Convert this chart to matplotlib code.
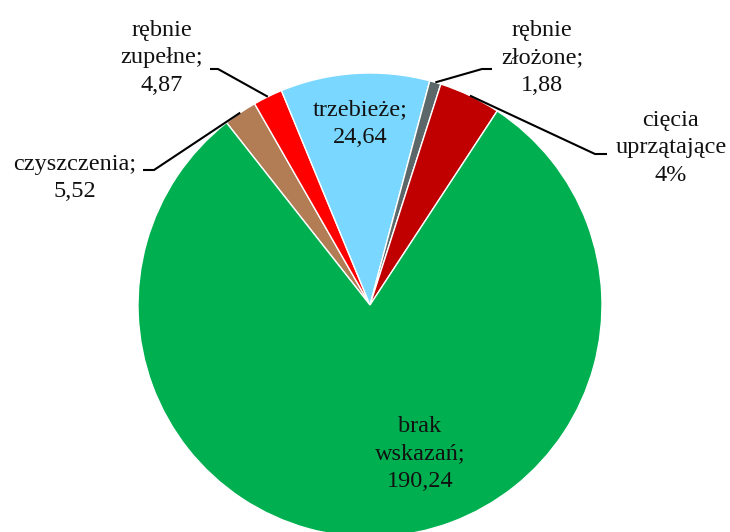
import numpy as np
import matplotlib
matplotlib.use("Agg")
import matplotlib.pyplot as plt

# Forest treatment needs (area), drawn clockwise
categories = ["czyszczenia", "rębnie zupełne", "trzebieże", "rębnie złożone",
              "cięcia uprzątające", "brak wskazań"]
values = [5.52, 4.87, 24.64, 1.88, 10.2, 190.24]
label_texts = ["czyszczenia;\n5,52", "rębnie\nzupełne;\n4,87", "trzebieże;\n24,64",
               "rębnie\nzłożone;\n1,88", "cięcia\nuprzątające\n{pct}", "brak\nwskazań;\n190,24"]
colors = ["#B27D55", "#FF0000", "#7AD7FF", "#5B6769", "#C00000", "#00B050"]

W, H = 730, 532
R_PX = 232.0
CX, CY = 370.0, 305.0


def px(x, y):
    """Pixel position (from top-left) to data coordinates of a unit-radius pie."""
    return (x - CX) / R_PX, (CY - y) / R_PX


fig = plt.figure(figsize=(W / 100, H / 100), dpi=100)
ax = fig.add_axes([0, 0, 1, 1])
ax.axis("off")

start = 128.2
wedges, _ = ax.pie(values, colors=colors, startangle=start, counterclock=False,
                   radius=1.0, center=(0, 0),
                   wedgeprops=dict(edgecolor="white", linewidth=1.0))
ax.set_xlim(px(0, 0)[0], px(W, 0)[0])
ax.set_ylim(px(0, H)[1], px(0, 0)[1])
ax.set_aspect("auto")

total = sum(values)
pct = "{:.0f}%".format(values[4] / total * 100)
texts = [t.format(pct=pct) if "{pct}" in t else t for t in label_texts]

font = dict(family=["Liberation Serif", "DejaVu Serif"], fontsize=17.5,
            color="#111111", ha="center", va="center", multialignment="center",
            linespacing=1.42)

# label block centres (pixel layout)
label_pos = [(75, 178), (162, 58), (360, 124), (542, 58), (671, 148), (420, 454)]
# leader elbows: (outer end, inner end) of the short horizontal stub
elbows = {0: ((143, 170), (154, 170)),
          1: ((210, 69), (218, 69)),
          3: ((492, 69), (482, 69)),
          4: ((607, 154), (595, 154))}

for i, w in enumerate(wedges):
    ax.text(*px(*label_pos[i]), texts[i], **font)
    if i in elbows:
        mid = np.deg2rad((w.theta1 + w.theta2) / 2)
        ex, ey = np.cos(mid), np.sin(mid)
        (x0, y0), (x1, y1) = [px(*p) for p in elbows[i]]
        ax.plot([x0, x1, ex], [y0, y1, ey], color="black", lw=1.5,
                solid_capstyle="butt", solid_joinstyle="miter")

fig.savefig("out.png", dpi=100)
